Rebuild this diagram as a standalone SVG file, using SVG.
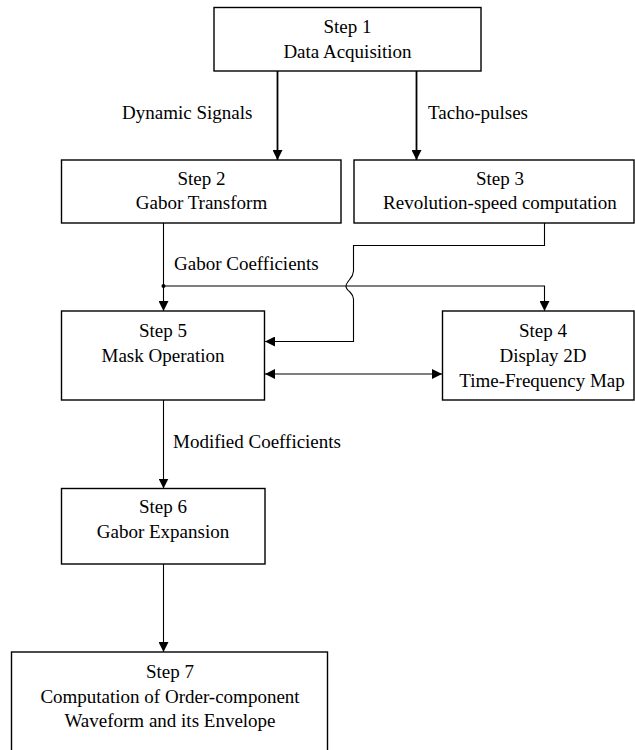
<svg xmlns="http://www.w3.org/2000/svg" width="635" height="750" viewBox="0 0 635 750">
<style>
.box{fill:#fff;stroke:#000;stroke-width:1.4}
.t{font-family:"Liberation Serif","Times New Roman",serif;font-size:19px;fill:#000;text-anchor:middle}
.l{font-family:"Liberation Serif","Times New Roman",serif;font-size:19px;fill:#000}
.c{fill:none;stroke:#000;stroke-width:1.1}
.c2{fill:none;stroke:#000;stroke-width:1.8}
</style>
<defs>
<marker id="ah" markerWidth="12" markerHeight="10" refX="10" refY="5" orient="auto" markerUnits="userSpaceOnUse">
<path d="M0,0 L10,5 L0,10 Z" fill="#000"/>
</marker>
<marker id="ahs" markerWidth="12" markerHeight="10" refX="0" refY="5" orient="auto" markerUnits="userSpaceOnUse">
<path d="M10,0 L0,5 L10,10 Z" fill="#000"/>
</marker>
</defs>
<rect width="635" height="750" fill="#fff"/>
<g id="connectors">
<line class="c2" x1="277.5" y1="71" x2="277.5" y2="160" marker-end="url(#ah)"/>
<line class="c2" x1="416.5" y1="71" x2="416.5" y2="160" marker-end="url(#ah)"/>
<line class="c" x1="163.5" y1="223" x2="163.5" y2="311" marker-end="url(#ah)"/>
<circle cx="163.5" cy="286" r="2" fill="#000"/>
<path class="c" d="M163.5,286 H544.5 V311" marker-end="url(#ah)"/>
<path class="c" d="M544.5,223 V245.5 H353.5 V271 Q353,276 350,279 Q346,284 346,286 Q346,289 350,292 Q353,295 353.5,299 V341.5 H265" marker-end="url(#ah)"/>
<line class="c" x1="265" y1="374" x2="442" y2="374" marker-start="url(#ahs)" marker-end="url(#ah)"/>
<line class="c" x1="163.5" y1="400" x2="163.5" y2="488.5" marker-end="url(#ah)"/>
<line class="c" x1="163.5" y1="564" x2="163.5" y2="652" marker-end="url(#ah)"/>
<text class="l" x="122" y="119">Dynamic Signals</text>
<text class="l" x="428" y="119">Tacho-pulses</text>
<text class="l" x="174" y="270">Gabor Coefficients</text>
<text class="l" x="173" y="448">Modified Coefficients</text>
</g>
<g id="step1">
<rect class="box" x="214" y="7.5" width="267" height="63.5"/>
<text class="t" x="347.5" y="33">Step 1</text>
<text class="t" x="347.5" y="58">Data Acquisition</text>
</g>
<g id="step2">
<rect class="box" x="61.5" y="160" width="279.5" height="63"/>
<text class="t" x="201.5" y="185">Step 2</text>
<text class="t" x="201.5" y="209">Gabor Transform</text>
</g>
<g id="step3">
<rect class="box" x="354" y="160" width="280" height="63"/>
<text class="t" x="500" y="185">Step 3</text>
<text class="t" x="500" y="209">Revolution-speed computation</text>
</g>
<g id="step5">
<rect class="box" x="61.5" y="311" width="203" height="89"/>
<text class="t" x="163" y="336.5">Step 5</text>
<text class="t" x="163" y="361.5">Mask Operation</text>
</g>
<g id="step4">
<rect class="box" x="442.5" y="311" width="191.5" height="89"/>
<text class="t" x="543" y="336.5">Step 4</text>
<text class="t" x="543" y="361.5">Display 2D</text>
<text class="t" x="542" y="387">Time-Frequency Map</text>
</g>
<g id="step6">
<rect class="box" x="61.5" y="488.5" width="203.5" height="75.5"/>
<text class="t" x="163" y="513">Step 6</text>
<text class="t" x="163" y="538">Gabor Expansion</text>
</g>
<g id="step7">
<rect class="box" x="11.5" y="652" width="316" height="100"/>
<text class="t" x="170" y="677.5">Step 7</text>
<text class="t" x="170" y="702.5">Computation of Order-component</text>
<text class="t" x="170" y="726.5">Waveform and its Envelope</text>
</g>
</svg>
